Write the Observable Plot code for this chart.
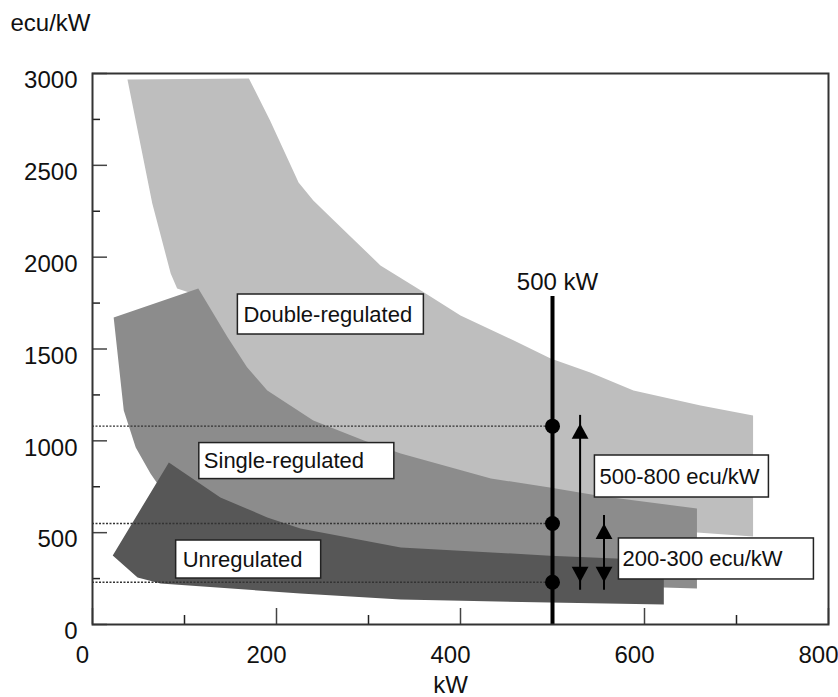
<!DOCTYPE html>
<html>
<head>
<meta charset="utf-8">
<script src="https://cdn.jsdelivr.net/npm/d3@7"></script>
<script src="https://cdn.jsdelivr.net/npm/@observablehq/plot@0.6"></script>
<style>
  body { margin: 0; background: #fff; }
</style>
</head>
<body>
<div id="chart"></div>
<script>
// Cost bands (ecu per kW) versus rated power (kW), as outline polygons [kW, ecu/kW]
const doubleRegulated = [
  [38, 2967], [170, 2973], [193, 2744], [224, 2407], [240, 2309], [277, 2129],
  [313, 1955], [357, 1819], [400, 1682], [458, 1546], [498, 1448], [541, 1372],
  [588, 1274], [661, 1192], [718, 1138], [718, 479], [657, 501], [552, 610],
  [497, 675], [433, 757], [335, 866], [240, 1029], [190, 1220], [147, 1519],
  [115, 1791], [92, 1830], [85, 1911], [65, 2292], [38, 2967]
];
const singleRegulated = [
  [23, 1672], [115, 1830], [147, 1563], [168, 1400], [190, 1274], [240, 1111],
  [295, 1002], [335, 931], [433, 795], [497, 746], [552, 700], [657, 632],
  [657, 196], [621, 201], [443, 240], [226, 321], [96, 512], [72, 757],
  [63, 822], [47, 964], [34, 1165], [23, 1672]
];
const unregulated = [
  [83, 882], [139, 692], [190, 583], [226, 523], [335, 419], [497, 375],
  [621, 348], [621, 109], [497, 120], [335, 136], [226, 169], [74, 223],
  [49, 256], [22, 376], [83, 882]
];

// Axis ticks
const yTicks = [0, 500, 1000, 1500, 2000, 2500, 3000];
const yMinorTicks = [250, 750, 1250, 1750, 2250, 2750];
const xTicks = [0, 200, 400, 600, 800];
const xMinorTicks = [100, 300, 500, 700];

// 500 kW reading
const markerKW = 500;
const markerTop = 1808;
const markerValues = [1080, 550, 230];
const rangeArrows = [
  {x: 530, from: 1095, to: 230},
  {x: 556, from: 550, to: 230}
];

// Boxed labels
const regionLabels = [
  {text: "Double-regulated", x: 164, y: 1688},
  {text: "Single-regulated", x: 121, y: 890},
  {text: "Unregulated", x: 98, y: 354},
  {text: "500-800 ecu/kW", x: 551, y: 806},
  {text: "200-300 ecu/kW", x: 576, y: 357}
];

// Box geometry per label (pixels)
const boxStyle = {
  "Double-regulated": {padLeft: 6, width: 186, height: 40},
  "Single-regulated": {padLeft: 5, width: 195, height: 36},
  "Unregulated": {padLeft: 7, width: 145, height: 38},
  "500-800 ecu/kW": {padLeft: 5, width: 174, height: 42},
  "200-300 ecu/kW": {padLeft: 4, width: 195, height: 41}
};

const width = 838, height = 697;
const margin = {top: 73, right: 10, bottom: 73, left: 92};
const plotW = width - margin.left - margin.right;
const plotH = height - margin.top - margin.bottom;

// Filled arrowhead with its tip at the origin, pointing up
const arrowHead = {
  draw(context, size) {
    const r = Math.sqrt(size / Math.PI);
    const w = r * 1.2, h = r * 2.2;
    context.moveTo(0, 0);
    context.lineTo(w, h);
    context.lineTo(-w, h);
    context.closePath();
  }
};

const ink = "#111";

const chart = Plot.plot({
  width, height,
  marginTop: margin.top, marginRight: margin.right,
  marginBottom: margin.bottom, marginLeft: margin.left,
  style: {fontFamily: "'Liberation Sans', Arial, sans-serif", fontSize: "24px", color: ink, background: "#fff"},
  x: {domain: [0, 800]},
  y: {domain: [0, 3000]},
  marks: [
    // bands
    Plot.line(doubleRegulated, {x: d => d[0], y: d => d[1], fill: "#bebebe", stroke: "none"}),
    Plot.line(singleRegulated, {x: d => d[0], y: d => d[1], fill: "#8c8c8c", stroke: "none"}),
    Plot.line(unregulated, {x: d => d[0], y: d => d[1], fill: "#575757", stroke: "none"}),

    // inward ticks
    Plot.tickY(yTicks, {y: d => d, insetRight: plotW - 15, stroke: "#444", strokeWidth: 1.5}),
    Plot.tickY(yMinorTicks, {y: d => d, insetRight: plotW - 8, stroke: "#222", strokeWidth: 1.5}),
    Plot.tickX(xTicks, {x: d => d, insetTop: plotH - 16, stroke: "#444", strokeWidth: 1.5}),
    Plot.tickX(xMinorTicks, {x: d => d, insetTop: plotH - 9, stroke: "#222", strokeWidth: 1.5}),

    // axis labels
    Plot.axisY({ticks: yTicks, tickFormat: d => String(d), tickSize: 0, tickPadding: 15, dy: 7, fontSize: 24, label: null}),
    Plot.axisX({ticks: xTicks, tickFormat: d => String(d), tickSize: 0, tickPadding: 21, dx: -10, fontSize: 24, label: null}),
    Plot.text(["ecu/kW"], {frameAnchor: "top-left", dx: -82, dy: -50, textAnchor: "start", lineAnchor: "middle", fontSize: 24, fill: ink}),
    Plot.text(["kW"], {frameAnchor: "bottom", dx: -10, dy: 51, lineAnchor: "top", fontSize: 24, fill: ink}),

    // dotted read-off lines
    Plot.ruleY(markerValues, {y: d => d, x1: 0, x2: markerKW, stroke: "#333", strokeWidth: 1.3, strokeDasharray: "2,1.5"}),

    // 500 kW line and points
    Plot.ruleX([markerKW], {x: d => d, y1: 0, y2: markerTop, insetBottom: -4, stroke: "#000", strokeWidth: 4}),
    Plot.dot(markerValues, {x: markerKW, y: d => d, r: 7.5, fill: "#000", stroke: "none"}),
    Plot.text([markerKW], {x: d => d, y: markerTop, text: d => `${d} kW`, dx: 5, dy: -2, lineAnchor: "bottom", fontSize: 24, fill: ink}),

    // range arrows
    Plot.ruleX(rangeArrows, {x: "x", y1: "to", y2: "from", insetTop: 8, insetBottom: 8, stroke: "#000", strokeWidth: 2}),
    Plot.dot(rangeArrows, {x: "x", y: "from", symbol: arrowHead, r: 7, fill: "#000", stroke: "none"}),
    Plot.dot(rangeArrows, {x: "x", y: "to", symbol: arrowHead, r: 7, rotate: 180, fill: "#000", stroke: "none"}),

    // frame
    Plot.frame({stroke: "#333", strokeWidth: 2}),

    // labels (boxes added after layout)
    Plot.text(regionLabels, {x: "x", y: "y", text: "text", textAnchor: "start", lineAnchor: "middle", fontSize: 22, fill: ink})
  ]
});

document.getElementById("chart").append(chart);

// White boxes with a dark outline behind each boxed label
d3.select(chart).selectAll("text")
  .filter(function () { return Object.prototype.hasOwnProperty.call(boxStyle, this.textContent); })
  .each(function () {
    const b = this.getBBox();
    const s = boxStyle[this.textContent];
    const rect = document.createElementNS("http://www.w3.org/2000/svg", "rect");
    const t = this.getAttribute("transform");
    if (t) rect.setAttribute("transform", t);
    rect.setAttribute("x", b.x - s.padLeft);
    rect.setAttribute("y", b.y + b.height / 2 - s.height / 2);
    rect.setAttribute("width", s.width);
    rect.setAttribute("height", s.height);
    rect.setAttribute("fill", "#fff");
    rect.setAttribute("stroke", "#222");
    rect.setAttribute("stroke-width", 1.5);
    this.parentNode.insertBefore(rect, this);
  });
</script>
</body>
</html>
